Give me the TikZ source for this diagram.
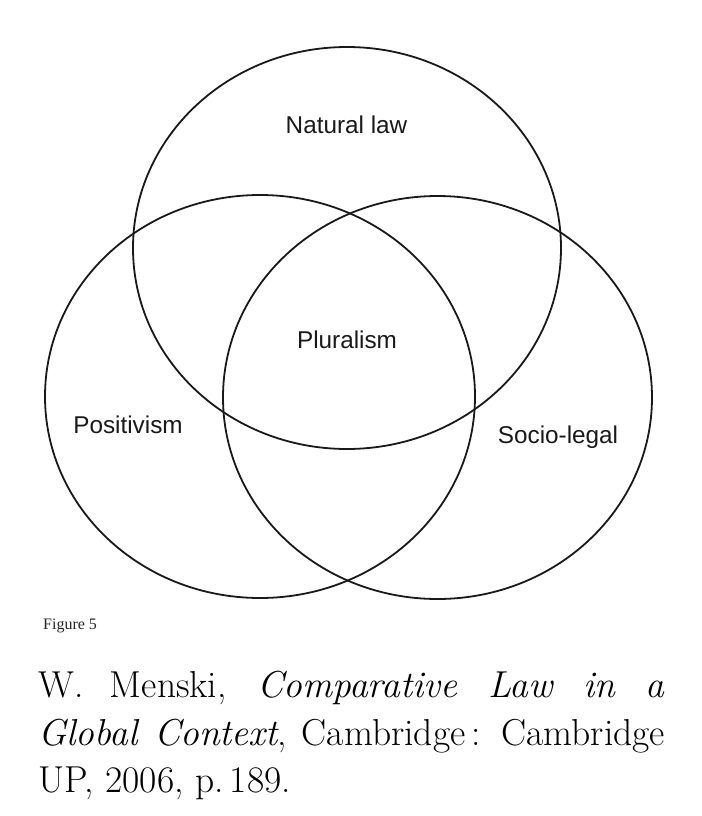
\documentclass[tikz,border=0pt]{standalone}
\usepackage{fontspec}
\newfontfamily\labelfont{Liberation Sans}
\newfontfamily\figfont{Liberation Serif}
\usetikzlibrary{shapes.geometric}
\begin{document}
\begin{tikzpicture}[x=1pt,y=-1pt,
  venn/.style={draw=black!90, line width=1.8pt, ellipse, inner sep=0pt, outer sep=0pt},
  lbl/.style={font=\labelfont\fontsize{24.3}{28}\selectfont, text=black!90, anchor=base, inner sep=0pt},
]
\useasboundingbox (0,0) rectangle (701,816);
\node[venn, minimum width=428pt, minimum height=402pt] (nat) at (347,248) {};
\node[venn, minimum width=430pt, minimum height=403pt] (pos) at (260,396.5) {};
\node[venn, minimum width=429pt, minimum height=403pt] (soc) at (437.5,397.5) {};
\node[lbl] (tnat) at (346.5,133) {Natural law};
\node[lbl] (tplu) at (347,348) {Pluralism};
\node[lbl] (tpos) at (128,433) {Positivism};
\node[lbl] (tsoc) at (558,443) {Socio-legal};
\node[anchor=base west, inner sep=0pt, font=\figfont\fontsize{16}{18}\selectfont, text=black!85] (fig) at (43,629) {Figure 5};
\node[anchor=north west, inner sep=0pt, text width=627pt, align=justify,
  font=\fontsize{37.5}{47.5}\selectfont] (cite) at (38,671)
  {\hyphenpenalty=10000 W. Menski, \textit{Comparative Law in a}\linebreak
   \textit{Global Context}, Cambridge\,: Cambridge\linebreak
   UP, 2006, p.\,189.};
\end{tikzpicture}
\end{document}
